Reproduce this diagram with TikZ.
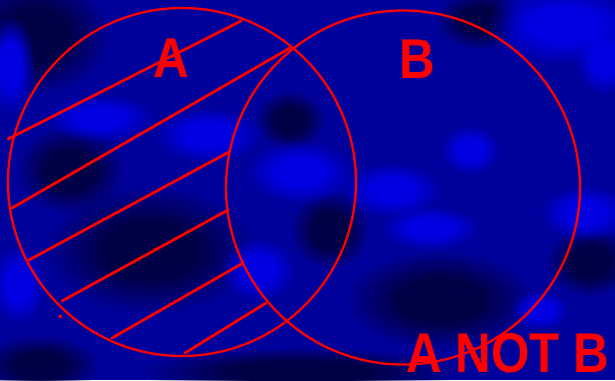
\documentclass[tikz,border=0pt]{standalone}
\usepackage{fontspec}
\setmainfont{Liberation Sans}
\usetikzlibrary{fadings}
\definecolor{bgbase}{RGB}{0,0,155}
\definecolor{bgdark}{RGB}{0,0,70}
\definecolor{bgbright}{RGB}{0,0,225}
\definecolor{vred}{RGB}{255,0,0}
\pgfdeclareradialshading{softblobshade}{\pgfpointorigin}{color(0bp)=(pgftransparent!0); color(11bp)=(pgftransparent!0); color(25bp)=(pgftransparent!100); color(50bp)=(pgftransparent!100)}
\pgfdeclarefading{softblob}{\pgfuseshading{softblobshade}}
\tikzset{
  blobdark/.style={fill=bgdark, path fading=softblob},
  blobbright/.style={fill=bgbright, path fading=softblob},
  setcircle/.style={circle, draw=vred, line width=2.3pt, inner sep=0pt},
  hatchline/.style={draw=vred, line width=2.8pt, line cap=round},
  setlabel/.style={text=vred, font=\fontsize{56}{56}\selectfont\bfseries, inner sep=0pt, anchor=base}
}
\begin{document}
\begin{tikzpicture}[x=1pt,y=-1pt]
\useasboundingbox (0,0) rectangle (615,380);
\fill[bgbase] (0,0) rectangle (615,380);
% dark patches
\fill[blobdark] (35,35) ellipse (75 and 60);
\fill[blobdark] (70,170) ellipse (55 and 45);
\fill[blobdark] (150,250) ellipse (105 and 65);
\fill[blobdark] (290,120) ellipse (35 and 30);
\fill[blobdark] (440,300) ellipse (95 and 50);
\fill[blobdark] (480,20) ellipse (45 and 30);
\fill[blobdark] (590,262) ellipse (45 and 35);
\fill[blobdark] (300,372) ellipse (160 and 25);
\fill[blobdark] (40,365) ellipse (60 and 30);
\fill[blobdark] (330,230) ellipse (40 and 40);
% bright patches
\fill[blobbright] (565,25) ellipse (80 and 40);
\fill[blobbright] (605,60) ellipse (30 and 35);
\fill[blobbright] (10,65) ellipse (25 and 50);
\fill[blobbright] (100,118) ellipse (55 and 24);
\fill[blobbright] (208,135) ellipse (55 and 28);
\fill[blobbright] (300,172) ellipse (55 and 32);
\fill[blobbright] (258,270) ellipse (38 and 32);
\fill[blobbright] (392,190) ellipse (50 and 28);
\fill[blobbright] (430,228) ellipse (50 and 22);
\fill[blobbright] (585,213) ellipse (45 and 28);
\fill[blobbright] (18,285) ellipse (28 and 40);
\fill[blobbright] (540,310) ellipse (30 and 20);
\fill[blobbright] (470,150) ellipse (30 and 25);
% circles
\node[setcircle, minimum size=348pt] (circA) at (182,182) {};
\node[setcircle, minimum size=354pt] (circB) at (403,187.5) {};
% hatch lines
\coordinate (h1a) at (8,139);   \coordinate (h1b) at (241,21);
\coordinate (h2a) at (12,208);  \coordinate (h2b) at (290,48);
\coordinate (h3a) at (29,260);  \coordinate (h3b) at (229,152);
\coordinate (h4a) at (62,301);  \coordinate (h4b) at (228,210);
\coordinate (h5a) at (112,338); \coordinate (h5b) at (243,263);
\coordinate (h6a) at (185,353); \coordinate (h6b) at (266,303);
\draw[hatchline] (h1a) -- (h1b);
\draw[hatchline] (h2a) -- (h2b);
\draw[hatchline] (h3a) -- (h3b);
\draw[hatchline] (h4a) -- (h4b);
\draw[hatchline] (h5a) -- (h5b);
\draw[hatchline] (h6a) -- (h6b);
\fill[vred] (59,315) rectangle (62,318);
% labels
\node[setlabel] (labA) at (171,77) {\scalebox{0.88}[1]{A}};
\node[setlabel] (labB) at (417,78) {\scalebox{0.88}[1]{B}};
\node[setlabel] (labAB) at (508,372) {\scalebox{0.88}[1]{A NOT B}};
\end{tikzpicture}
\end{document}
